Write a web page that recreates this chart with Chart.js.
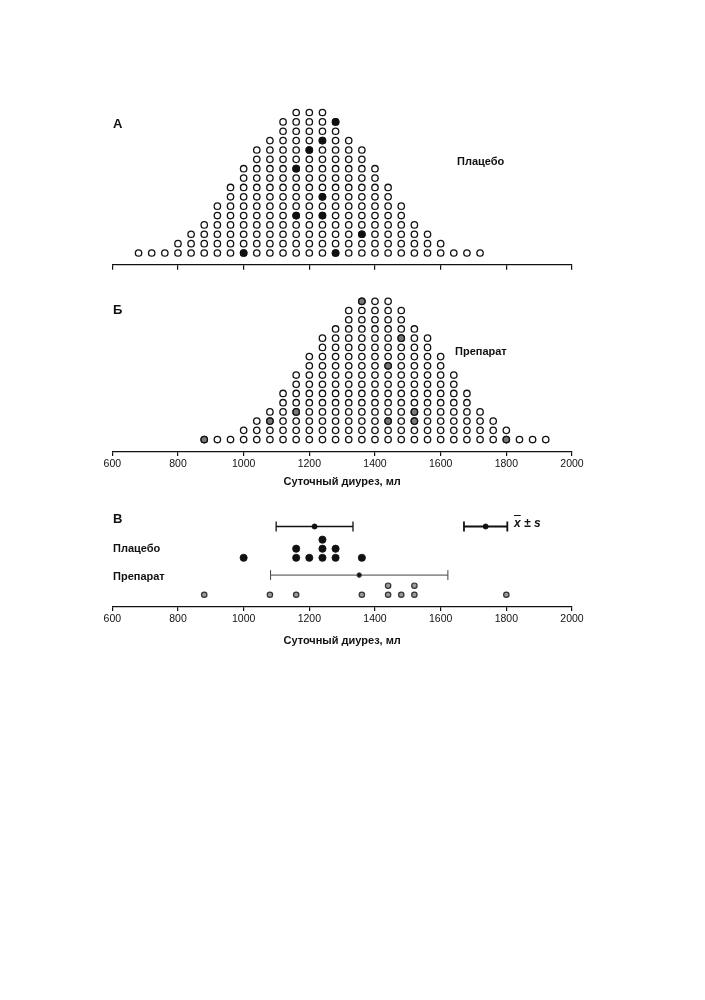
<!DOCTYPE html>
<html lang="ru">
    <head>
        <meta charset="UTF-8" />
        <title>Суточный диурез</title>
        <style>
            body {
                margin: 0;
                background: #fff;
                font-family: "Liberation Sans", Arial, sans-serif;
            }
            .page {
                position: relative;
                width: 705px;
                height: 1000px;
            }
            canvas {
                position: absolute;
                left: 0;
            }
            .lbl {
                position: absolute;
                font-weight: bold;
                font-size: 11px;
                color: #111;
                line-height: 1;
                white-space: nowrap;
            }
            .panel {
                font-size: 13px;
            }
        </style>
    </head>
    <body>
        <div class="page">
            <canvas id="chartA" width="705" height="170" style="top: 100px; width: 705px; height: 170px"></canvas>
            <canvas id="chartB" width="705" height="199" style="top: 290px; width: 705px; height: 199px"></canvas>
            <canvas id="chartC" width="705" height="143" style="top: 505px; width: 705px; height: 143px"></canvas>

            <!-- panel letters and labels -->
            <div class="lbl panel" style="left: 113px; top: 117px">А</div>
            <div class="lbl" style="left: 457px; top: 156px">Плацебо</div>
            <div class="lbl panel" style="left: 113px; top: 303px">Б</div>
            <div class="lbl" style="left: 455px; top: 346px">Препарат</div>
            <div class="lbl panel" style="left: 113px; top: 512px">В</div>
            <div class="lbl" style="left: 113px; top: 543px">Плацебо</div>
            <div class="lbl" style="left: 113px; top: 571px">Препарат</div>
            <div class="lbl" style="left: 514px; top: 517px; font-style: italic; font-size: 12px">
                <span style="text-decoration: overline">x</span> ± s
            </div>
        </div>

        <script src="https://cdn.jsdelivr.net/npm/chart.js"></script>

        <script>
            // population bins (ml) and how many people fall in each
            const placeboBins = [680, 720, 760, 800, 840, 880, 920, 960, 1000, 1040, 1080, 1120, 1160, 1200,
                1240, 1280, 1320, 1360, 1400, 1440, 1480, 1520, 1560, 1600, 1640, 1680, 1720];
            const drugBins = [880, 920, 960, 1000, 1040, 1080, 1120, 1160, 1200, 1240, 1280, 1320, 1360, 1400,
                1440, 1480, 1520, 1560, 1600, 1640, 1680, 1720, 1760, 1800, 1840, 1880, 1920];
            const popCounts = [1, 1, 1, 2, 3, 4, 6, 8, 10, 12, 13, 15, 16, 16,
                16, 15, 13, 12, 10, 8, 6, 4, 3, 2, 1, 1, 1];

            // the 10 sampled people and the row they sit in on the population plot
            const placeboSample = [1000, 1160, 1160, 1200, 1240, 1240, 1240, 1280, 1280, 1360];
            const placeboSampleRow = [1, 5, 10, 12, 5, 7, 13, 1, 15, 3];
            const drugSample = [880, 1080, 1160, 1360, 1440, 1440, 1480, 1520, 1520, 1800];
            const drugSampleRow = [1, 3, 4, 16, 3, 9, 12, 3, 4, 1];

            // mean and standard deviation of each sample
            const placeboMean = 1216;
            const placeboSD = 117;
            const drugMean = 1352;
            const drugSD = 270;
            // key symbol for "x ± s"
            const keyMean = 1737;
            const keySD = 66;

            const axisTicks = [600, 800, 1000, 1200, 1400, 1600, 1800, 2000];
            const axisTitle = "Суточный диурез, мл";

            // ---- helpers ----
            function populationPoints(bins, counts) {
                const pts = [];
                bins.forEach(function (b, i) {
                    for (let k = 1; k <= counts[i]; k++) {
                        pts.push({ x: b, y: k });
                    }
                });
                return pts;
            }

            function samplePoints(values, rows) {
                return values.map(function (v, i) {
                    return { x: v, y: rows[i] };
                });
            }

            // stack repeated values one above the other
            function stackedPoints(values, base) {
                const seen = {};
                return values.map(function (v) {
                    seen[v] = (seen[v] || 0) + 1;
                    return { x: v, y: base + seen[v] - 1 };
                });
            }

            function errorBar(mean, sd, level, width, meanRadius, color) {
                return {
                    type: "line",
                    data: [
                        { x: mean - sd, y: level },
                        { x: mean, y: level },
                        { x: mean + sd, y: level },
                    ],
                    borderColor: color,
                    borderWidth: width,
                    pointStyle: ["line", "circle", "line"],
                    pointRotation: [90, 0, 90],
                    pointRadius: [5, meanRadius, 5],
                    pointBorderWidth: [width, 1, width],
                    pointBorderColor: color,
                    pointBackgroundColor: "#111",
                    showLine: true,
                    clip: false,
                };
            }

            const font = { family: "'Liberation Sans', Arial, sans-serif" };

            function xAxis(showLabels, height) {
                return {
                    type: "linear",
                    min: 600,
                    max: 2000,
                    afterBuildTicks: function (scale) {
                        scale.ticks = axisTicks.map(function (v) {
                            return { value: v };
                        });
                    },
                    afterFit: function (scale) {
                        scale.height = height;
                    },
                    border: { display: true, color: "#111", width: 1.2 },
                    grid: {
                        display: true,
                        drawOnChartArea: false,
                        drawTicks: true,
                        tickLength: showLabels ? 4 : 5,
                        color: "#111",
                        lineWidth: 1.2,
                    },
                    ticks: {
                        display: showLabels,
                        color: "#111",
                        padding: 2,
                        maxRotation: 0,
                        autoSkip: false,
                        font: Object.assign({ size: 10.5 }, font),
                        callback: function (value) {
                            return String(value);
                        },
                    },
                    title: {
                        display: showLabels,
                        text: axisTitle,
                        color: "#111",
                        padding: 0,
                        font: Object.assign({ size: 11, weight: "bold" }, font),
                    },
                };
            }

            function baseOptions(xScale, yMin, yMax, padTop) {
                return {
                    responsive: false,
                    animation: false,
                    events: [],
                    layout: { padding: { left: 112.3, right: 133, top: padTop, bottom: 0 } },
                    plugins: { legend: { display: false }, tooltip: { enabled: false } },
                    scales: {
                        x: xScale,
                        y: { type: "linear", display: false, min: yMin, max: yMax },
                    },
                };
            }

            const openDot = {
                type: "scatter",
                pointRadius: 3.2,
                pointBorderWidth: 1.3,
                pointBorderColor: "#111",
                pointBackgroundColor: "#fff",
                clip: false,
            };

            // ---- A: placebo population (sample dataset listed first so it is drawn on top) ----
            new Chart(document.getElementById("chartA"), {
                type: "scatter",
                data: {
                    datasets: [
                        Object.assign({}, openDot, {
                            data: samplePoints(placeboSample, placeboSampleRow),
                            pointBackgroundColor: "#111",
                        }),
                        Object.assign({}, openDot, { data: populationPoints(placeboBins, popCounts) }),
                    ],
                },
                options: baseOptions(xAxis(false, 5), -0.25, 16.75, 5.5),
            });

            // ---- Б: drug population ----
            new Chart(document.getElementById("chartB"), {
                type: "scatter",
                data: {
                    datasets: [
                        Object.assign({}, openDot, {
                            data: samplePoints(drugSample, drugSampleRow),
                            pointBackgroundColor: "#7a7a7a",
                        }),
                        Object.assign({}, openDot, { data: populationPoints(drugBins, popCounts) }),
                    ],
                },
                options: baseOptions(xAxis(true, 37), -0.35, 16.65, 3.2),
            });

            // ---- В: the two samples with mean ± SD ----
            new Chart(document.getElementById("chartC"), {
                type: "scatter",
                data: {
                    datasets: [
                        errorBar(placeboMean, placeboSD, 8.88, 1.3, 2.5, "#111"),
                        errorBar(drugMean, drugSD, 3.52, 1, 2.3, "#444"),
                        errorBar(keyMean, keySD, 8.88, 1.8, 2.5, "#111"),
                        {
                            type: "scatter",
                            data: stackedPoints(placeboSample, 5.43),
                            pointRadius: 3.6,
                            pointBorderWidth: 0.8,
                            pointBorderColor: "#111",
                            pointBackgroundColor: "#111",
                            clip: false,
                        },
                        {
                            type: "scatter",
                            data: stackedPoints(drugSample, 1.35),
                            pointRadius: 2.7,
                            pointBorderWidth: 1.2,
                            pointBorderColor: "#333",
                            pointBackgroundColor: "#9a9a9a",
                            clip: false,
                        },
                    ],
                },
                options: baseOptions(xAxis(true, 41), 0, 10.5, 5),
            });
        </script>
    </body>
</html>
